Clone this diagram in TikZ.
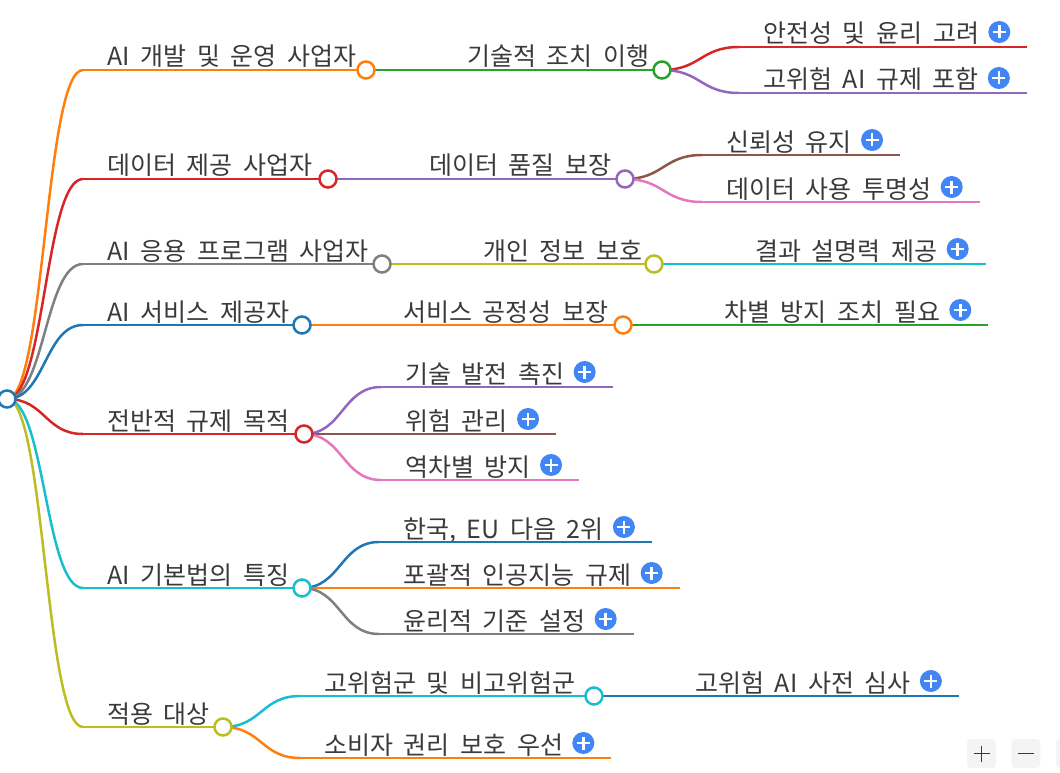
\documentclass[tikz,border=0pt]{standalone}
\usepackage{fontspec}
\setmainfont{Noto Sans CJK KR}[WordSpace=1.9]
\usetikzlibrary{positioning,calc}
\definecolor{ink}{HTML}{3A3A3A}
\definecolor{blue}{HTML}{1F77B4}
\definecolor{orange}{HTML}{FF7F0E}
\definecolor{green}{HTML}{2CA02C}
\definecolor{red}{HTML}{D62728}
\definecolor{purple}{HTML}{9467BD}
\definecolor{brown}{HTML}{8C564B}
\definecolor{pink}{HTML}{E377C2}
\definecolor{gray}{HTML}{7F7F7F}
\definecolor{olive}{HTML}{BCBD22}
\definecolor{cyan}{HTML}{17BECF}
\definecolor{plusblue}{HTML}{4285F4}
\definecolor{btnfill}{HTML}{F4F4F4}
\tikzset{
  every node/.style={font=\fontsize{25}{28}\selectfont, text=ink},
  label/.style={anchor=base west, inner sep=0pt},
  link/.style={draw=#1, line width=2.5pt},
  dot/.style={circle, draw=#1, fill=white, line width=2.5pt, minimum size=17pt, inner sep=0pt},
  plus/.style={circle, fill=plusblue, minimum size=22pt, inner sep=0pt,
    path picture={\draw[white, line width=2.4pt]
      ([xshift=-6.5pt]path picture bounding box.center) -- ([xshift=6.5pt]path picture bounding box.center)
      ([yshift=-6.5pt]path picture bounding box.center) -- ([yshift=6.5pt]path picture bounding box.center);}},
  btn/.style={rounded corners=4pt, fill=btnfill, minimum size=29pt, inner sep=0pt},
}
% curved link between two points, control points at half the x distance
\newcommand\twig[3]{\draw[link=#1] let \p1=(#2), \p2=(#3) in
  (\p1) .. controls ({(\x1+\x2)/2},\y1) and ({(\x1+\x2)/2},\y2) .. (\p2);}
% leaf: label, plus sign and underline
\newcommand\leaf[3]{%
  \node[label] (#2t) at ($(#2)+(24,-4)$) {#3};
  \node[plus] (#2p) at ($(#2t.base east)+(20,-11)$) {};
  \draw[link=#1] (#2) -- ($(#2 -| #2p.center)+(28,0)$);}
\begin{document}
\begin{tikzpicture}[x=1pt, y=-1pt]
\useasboundingbox (0,0) rectangle (1060,773);
% points
\coordinate (root) at (7,399);
\coordinate (s1) at (83,70);   \coordinate (c1) at (366,70);
\coordinate (s2) at (83,179);  \coordinate (c2) at (328,179);
\coordinate (s3) at (83,264);  \coordinate (c3) at (382,264);
\coordinate (s4) at (83,325);  \coordinate (c4) at (302,325);
\coordinate (s5) at (83,434);  \coordinate (c5) at (304,434);
\coordinate (s6) at (83,588);  \coordinate (c6) at (302,588);
\coordinate (s7) at (83,727);  \coordinate (c7) at (223,727);
\coordinate (s11) at (443,70);  \coordinate (c11) at (662,70);
\coordinate (s21) at (405,179); \coordinate (c21) at (625,179);
\coordinate (s31) at (459,264); \coordinate (c31) at (654,264);
\coordinate (s41) at (379,325); \coordinate (c41) at (623,325);
\coordinate (s51) at (381,387); \coordinate (s52) at (381,434); \coordinate (s53) at (381,480);
\coordinate (s61) at (379,542); \coordinate (s62) at (379,588); \coordinate (s63) at (379,634);
\coordinate (s71) at (300,696); \coordinate (c71) at (594,696);
\coordinate (s72) at (300,758);
\coordinate (s111) at (739,47);  \coordinate (s112) at (739,93);
\coordinate (s211) at (702,155); \coordinate (s212) at (702,202);
\coordinate (s311) at (731,264);
\coordinate (s411) at (700,325);
\coordinate (s711) at (671,696);
% level 1
\twig{orange}{root}{s1} \twig{red}{root}{s2} \twig{gray}{root}{s3} \twig{blue}{root}{s4}
\twig{red}{root}{s5} \twig{cyan}{root}{s6} \twig{olive}{root}{s7}
\draw[link=orange](s1)--(c1); \node[label] (t1) at ($(s1)+(24,-4)$) {AI 개발 및 운영 사업자};
\draw[link=red](s2)--(c2);    \node[label] (t2) at ($(s2)+(24,-4)$) {데이터 제공 사업자};
\draw[link=gray](s3)--(c3);   \node[label] (t3) at ($(s3)+(24,-4)$) {AI 응용 프로그램 사업자};
\draw[link=blue](s4)--(c4);   \node[label] (t4) at ($(s4)+(24,-4)$) {AI 서비스 제공자};
\draw[link=red](s5)--(c5);    \node[label] (t5) at ($(s5)+(24,-4)$) {전반적 규제 목적};
\draw[link=cyan](s6)--(c6);   \node[label] (t6) at ($(s6)+(24,-4)$) {AI 기본법의 특징};
\draw[link=olive](s7)--(c7);  \node[label] (t7) at ($(s7)+(24,-4)$) {적용 대상};
% level 2
\twig{green}{c1}{s11}  \draw[link=green](s11)--(c11);  \node[label] (t11) at ($(s11)+(24,-4)$) {기술적 조치 이행};
\twig{purple}{c2}{s21} \draw[link=purple](s21)--(c21); \node[label] (t21) at ($(s21)+(24,-4)$) {데이터 품질 보장};
\twig{olive}{c3}{s31}  \draw[link=olive](s31)--(c31);  \node[label] (t31) at ($(s31)+(24,-4)$) {개인 정보 보호};
\twig{orange}{c4}{s41} \draw[link=orange](s41)--(c41); \node[label] (t41) at ($(s41)+(24,-4)$) {서비스 공정성 보장};
\twig{purple}{c5}{s51} \leaf{purple}{s51}{기술 발전 촉진}
\twig{brown}{c5}{s52}  \leaf{brown}{s52}{위험 관리}
\twig{pink}{c5}{s53}   \leaf{pink}{s53}{역차별 방지}
\twig{blue}{c6}{s61}   \leaf{blue}{s61}{한국, EU 다음 2위}
\twig{orange}{c6}{s62} \leaf{orange}{s62}{포괄적 인공지능 규제}
\twig{gray}{c6}{s63}   \leaf{gray}{s63}{윤리적 기준 설정}
\twig{cyan}{c7}{s71}   \draw[link=cyan](s71)--(c71);   \node[label] (t71) at ($(s71)+(24,-4)$) {고위험군 및 비고위험군};
\twig{orange}{c7}{s72} \leaf{orange}{s72}{소비자 권리 보호 우선}
% level 3
\twig{red}{c11}{s111}    \leaf{red}{s111}{안전성 및 윤리 고려}
\twig{purple}{c11}{s112} \leaf{purple}{s112}{고위험 AI 규제 포함}
\twig{brown}{c21}{s211}  \leaf{brown}{s211}{신뢰성 유지}
\twig{pink}{c21}{s212}   \leaf{pink}{s212}{데이터 사용 투명성}
\twig{cyan}{c31}{s311}   \leaf{cyan}{s311}{결과 설명력 제공}
\twig{green}{c41}{s411}  \leaf{green}{s411}{차별 방지 조치 필요}
\twig{blue}{c71}{s711}   \leaf{blue}{s711}{고위험 AI 사전 심사}
% circles on top
\node[dot=blue] (n0) at (root) {};
\node[dot=orange] (n1) at (c1) {}; \node[dot=red] (n2) at (c2) {}; \node[dot=gray] (n3) at (c3) {};
\node[dot=blue] (n4) at (c4) {};   \node[dot=red] (n5) at (c5) {}; \node[dot=cyan] (n6) at (c6) {};
\node[dot=olive] (n7) at (c7) {};
\node[dot=green] (n11) at (c11) {}; \node[dot=purple] (n21) at (c21) {};
\node[dot=olive] (n31) at (c31) {}; \node[dot=orange] (n41) at (c41) {};
\node[dot=cyan] (n71) at (c71) {};
% zoom buttons
\node[btn] (zin) at (981.5,753.5) {};
\draw[ink, line width=1.6pt] ($(zin)+(-8,0)$) -- ($(zin)+(8,0)$) ($(zin)+(0,-8)$) -- ($(zin)+(0,8)$);
\node[btn, right=15pt of zin] (zout) {};
\draw[ink, line width=1.6pt] ($(zout)+(-8,0)$) -- ($(zout)+(8,0)$);
\node[btn, right=15pt of zout] (zfit) {};
\end{tikzpicture}
\end{document}
